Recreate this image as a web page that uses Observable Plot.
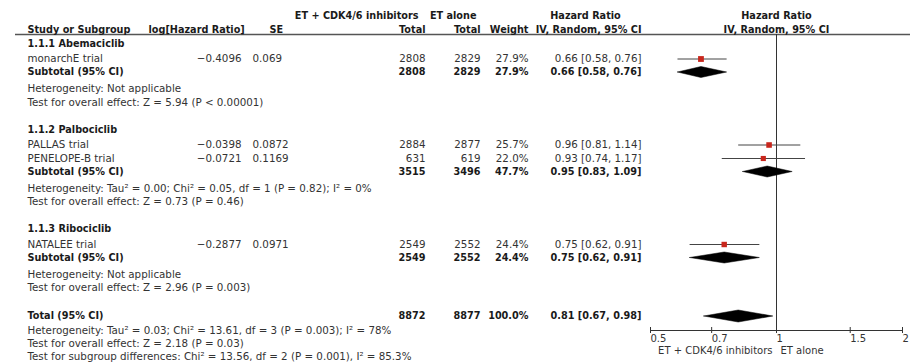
<!DOCTYPE html>
<html>
<head>
<meta charset="utf-8">
<script src="https://cdn.jsdelivr.net/npm/d3@7"></script>
<script src="https://cdn.jsdelivr.net/npm/@observablehq/plot@0.6"></script>
<style>
  html, body { margin: 0; padding: 0; background: #fff; }
  #chart svg { display: block; }
</style>
</head>
<body>
<div id="chart"></div>
<script>
// ---------- data ----------
const groups = ["1.1.1 Abemaciclib", "1.1.2 Palbociclib", "1.1.3 Ribociclib"];
const studyNames = ["monarchE trial", "PALLAS trial", "PENELOPE-B trial", "NATALEE trial"];
const studyGroup = [0, 1, 1, 2];
const logHR = [-0.4096, -0.0398, -0.0721, -0.2877];
const seVals = [0.069, 0.0872, 0.1169, 0.0971];
const nCDK = [2808, 2884, 631, 2549];
const nET = [2829, 2877, 619, 2552];
const weights = [27.9, 25.7, 22.0, 24.4];
const hr = [0.66, 0.96, 0.93, 0.75];
const hrLo = [0.58, 0.81, 0.74, 0.62];
const hrHi = [0.76, 1.14, 1.17, 0.91];

const subHR = [0.66, 0.95, 0.75];
const subLo = [0.58, 0.83, 0.62];
const subHi = [0.76, 1.09, 0.91];
const subCDK = [2808, 3515, 2549];
const subET = [2829, 3496, 2552];
const subW = [27.9, 47.7, 24.4];
const subHet = [
  "Heterogeneity: Not applicable",
  "Heterogeneity: Tau² = 0.00; Chi² = 0.05, df = 1 (P = 0.82); I² = 0%",
  "Heterogeneity: Not applicable"
];
const subTest = [
  "Test for overall effect: Z = 5.94 (P < 0.00001)",
  "Test for overall effect: Z = 0.73 (P = 0.46)",
  "Test for overall effect: Z = 2.96 (P = 0.003)"
];

const totHR = 0.81, totLo = 0.67, totHi = 0.98;
const totCDK = 8872, totET = 8877, totW = 100.0;
const totNotes = [
  "Heterogeneity: Tau² = 0.03; Chi² = 13.61, df = 3 (P = 0.003); I² = 78%",
  "Test for overall effect: Z = 2.18 (P = 0.03)",
  "Test for subgroup differences: Chi² = 13.56, df = 2 (P = 0.001), I² = 85.3%"
];

const xTicks = [0.5, 0.7, 1, 1.5, 2];
const legendLeft = "ET + CDK4/6 inhibitors";
const legendRight = "ET alone";

// ---------- layout (row positions) ----------
const W = 910, H = 362;
const FONT = "DejaVu Sans";
const FS = 10.3, FSB = 9.7;
const fmtCI = (m, l, h) => `${m.toFixed(2)} [${l.toFixed(2)}, ${h.toFixed(2)}]`;
const fmtW = w => `${w.toFixed(1)}%`;
const fmtLog = v => (v < 0 ? "−" : "") + Math.abs(v).toFixed(4);

const rows = [];      // table rows
const forest = [];    // study CIs
const diamonds = [];  // subtotal/total diamonds
let y = 43;
groups.forEach((g, gi) => {
  rows.push({y, bold: true, name: g});
  y += 15.5;
  studyNames.forEach((s, i) => {
    if (studyGroup[i] !== gi) return;
    rows.push({y, bold: false, name: s, logHR: fmtLog(logHR[i]), se: String(seVals[i]),
      nA: String(nCDK[i]), nB: String(nET[i]), w: fmtW(weights[i]), ci: fmtCI(hr[i], hrLo[i], hrHi[i])});
    forest.push({y, hr: hr[i], lo: hrLo[i], hi: hrHi[i], w: weights[i]});
    y += 13.5;
  });
  y -= 0.5;
  rows.push({y, bold: true, name: "Subtotal (95% CI)", nA: String(subCDK[gi]), nB: String(subET[gi]),
    w: fmtW(subW[gi]), ci: fmtCI(subHR[gi], subLo[gi], subHi[gi])});
  diamonds.push({id: gi, y, hr: subHR[gi], lo: subLo[gi], hi: subHi[gi], h: 5.5});
  y += 17;
  rows.push({y, bold: false, name: subHet[gi]});
  y += 13.5;
  rows.push({y, bold: false, name: subTest[gi]});
  y += 27;
});
y += 1;
rows.push({y, bold: true, name: "Total (95% CI)", nA: String(totCDK), nB: String(totET), w: fmtW(totW),
  ci: fmtCI(totHR, totLo, totHi)});
diamonds.push({id: 9, y, hr: totHR, lo: totLo, hi: totHi, h: 6});
const axisY = y + 14.5;
y += 14.5;
totNotes.forEach(t => { rows.push({y, bold: false, name: t}); y += 13; });

const diamondPts = diamonds.flatMap(d => [
  {id: d.id, x: d.lo, y: d.y}, {id: d.id, x: d.hr, y: d.y - d.h},
  {id: d.id, x: d.hi, y: d.y}, {id: d.id, x: d.hr, y: d.y + d.h}, {id: d.id, x: d.lo, y: d.y}
]);

const headerLineY = 34;
const colX = {name: 27, logHR: 241, se: 252, nA: 425, nB: 480, w: 528, ci: 641};

function col(data, key, dx, anchor, bold, fill) {
  return Plot.text(data.filter(r => r[key] != null), {
    y: "y", text: key, frameAnchor: "left", dx, textAnchor: anchor,
    lineAnchor: "middle", fontFamily: FONT, fontSize: bold ? FSB : FS,
    fontWeight: bold ? "bold" : "normal", fill: fill
  });
}

const header1 = [{y: 15, a: "ET + CDK4/6 inhibitors", b: "ET alone", c: "Hazard Ratio"}];
const header2 = [{y: 29, name: "Study or Subgroup", logHR: "log[Hazard Ratio]", se: "SE",
  nA: "Total", nB: "Total", w: "Weight", ci: "IV, Random, 95% CI"}];

const normal = rows.filter(r => !r.bold);
const bold = rows.filter(r => r.bold);
const TXT = "#333", BTXT = "#1a1a1a";
const hdr = {lineAnchor: "middle", fontFamily: FONT, fontSize: FSB, fontWeight: "bold", fill: BTXT};

const marks = [
  // header lines
  Plot.ruleY([headerLineY], {y: d => d, insetLeft: 15, stroke: "#555", strokeWidth: 1.3}),
  Plot.ruleX([1], {y1: headerLineY, y2: axisY, stroke: "#333", strokeWidth: 1}),
  // header texts
  Plot.text(header1, {y: "y", text: "a", frameAnchor: "left", dx: 418, textAnchor: "end", ...hdr}),
  Plot.text(header1, {y: "y", text: "b", frameAnchor: "left", dx: 476, textAnchor: "end", ...hdr}),
  Plot.text(header1, {y: "y", text: "c", frameAnchor: "left", dx: 585, textAnchor: "middle", ...hdr}),
  Plot.text(header1, {x: () => 1, y: "y", text: "c", textAnchor: "middle", ...hdr}),
  Plot.text(header2, {x: () => 1, y: "y", text: "ci", textAnchor: "middle", ...hdr}),
  col(header2, "name", colX.name, "start", true, BTXT),
  col(header2, "logHR", 148, "start", true, BTXT),
  col(header2, "se", 269, "start", true, BTXT),
  col(header2, "nA", colX.nA, "end", true, BTXT),
  col(header2, "nB", colX.nB, "end", true, BTXT),
  col(header2, "w", colX.w, "end", true, BTXT),
  col(header2, "ci", colX.ci, "end", true, BTXT),
  // table body
  col(normal, "name", colX.name, "start", false, TXT),
  col(bold, "name", colX.name, "start", true, BTXT),
  col(normal, "logHR", colX.logHR, "end", false, TXT),
  col(normal, "se", colX.se, "start", false, TXT),
  col(normal, "nA", colX.nA, "end", false, TXT),
  col(bold, "nA", colX.nA, "end", true, BTXT),
  col(normal, "nB", colX.nB, "end", false, TXT),
  col(bold, "nB", colX.nB, "end", true, BTXT),
  col(normal, "w", colX.w, "end", false, TXT),
  col(bold, "w", colX.w, "end", true, BTXT),
  col(normal, "ci", colX.ci, "end", false, TXT),
  col(bold, "ci", colX.ci, "end", true, BTXT),
  // forest
  Plot.link(forest, {x1: "lo", x2: "hi", y1: "y", y2: "y", stroke: "#444", strokeWidth: 1}),
  Plot.dot(forest, {x: "hr", y: "y", symbol: "square", r: d => Math.sqrt(d.w) * 0.62, fill: "#c8261c", stroke: "none"}),
  Plot.line(diamondPts, {x: "x", y: "y", z: "id", fill: "black", stroke: "black", strokeWidth: 0.5, curve: "linear"}),
  // axis
  Plot.ruleY([axisY], {y: d => d, x1: 0.5, x2: 2, stroke: "#333", strokeWidth: 1}),
  Plot.ruleX(xTicks, {x: d => d, y1: axisY - 3, y2: axisY + 3, stroke: "#333", strokeWidth: 1}),
  Plot.text(xTicks, {x: d => d, y: () => axisY + 8, text: d => String(d), textAnchor: "start", lineAnchor: "middle", dx: 0, fontFamily: FONT, fontSize: 10, fill: TXT}),
  Plot.text([legendLeft], {x: () => 1, y: () => axisY + 20, text: d => d, textAnchor: "end", dx: -4, lineAnchor: "middle", fontFamily: FONT, fontSize: 10, fill: TXT}),
  Plot.text([legendRight], {x: () => 1, y: () => axisY + 20, text: d => d, textAnchor: "start", dx: 4, lineAnchor: "middle", fontFamily: FONT, fontSize: 10, fill: TXT})
];

const chart = Plot.plot({
  width: W, height: H,
  marginTop: 0, marginRight: 0, marginBottom: 0, marginLeft: 0,
  style: {fontFamily: FONT, fontSize: FS + "px", background: "#fff"},
  x: {type: "log", domain: [0.5, 2], range: [650, 902], axis: null},
  y: {domain: [0, H], range: [0, H], axis: null},
  r: {type: "identity"},
  marks
});
document.getElementById("chart").appendChild(chart);
</script>
</body>
</html>
